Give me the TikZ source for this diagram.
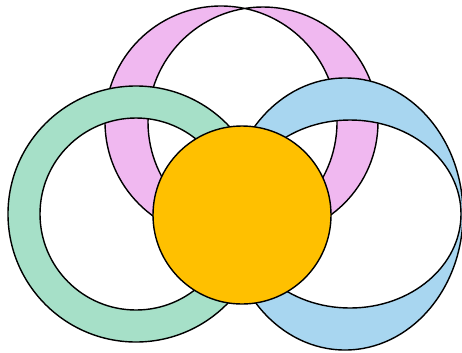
\documentclass[tikz,border=0pt]{standalone}
\usepackage[dvipsnames]{xcolor}
\usepackage{tikz}

\definecolor{ringpink}{RGB}{240,184,240}
\definecolor{ringgreen}{RGB}{166,224,200}
\definecolor{ringblue}{RGB}{168,214,240}
\definecolor{coreorange}{RGB}{255,192,0}

\begin{document}
\begin{tikzpicture}[
x=0.02cm, y=-0.02cm,
ring/.style={draw=black, line width=0.8pt, even odd rule},
core/.style={draw=black, line width=0.8pt, fill=coreorange}
]
\useasboundingbox (0,0) rectangle (462,352);
\clip (0,0) rectangle (462,352);
\coordinate (pinkL) at (221,122);
\coordinate (pinkR) at (263,122);
\coordinate (greenC) at (136,214);
\coordinate (blueOut) at (345,214);
\coordinate (blueIn) at (350,214);
\coordinate (coreC) at (242,215);
% back to front
\filldraw[ring, fill=ringpink] (pinkL) circle (116) (pinkR) circle (115);
\filldraw[ring, fill=ringgreen] (greenC) circle (128) (greenC) circle (96);
\filldraw[ring, fill=ringblue] (blueOut) ellipse [x radius=118, y radius=136] (blueIn) ellipse [x radius=111, y radius=94];
\filldraw[core] (coreC) circle (89);
\end{tikzpicture}
\end{document}
